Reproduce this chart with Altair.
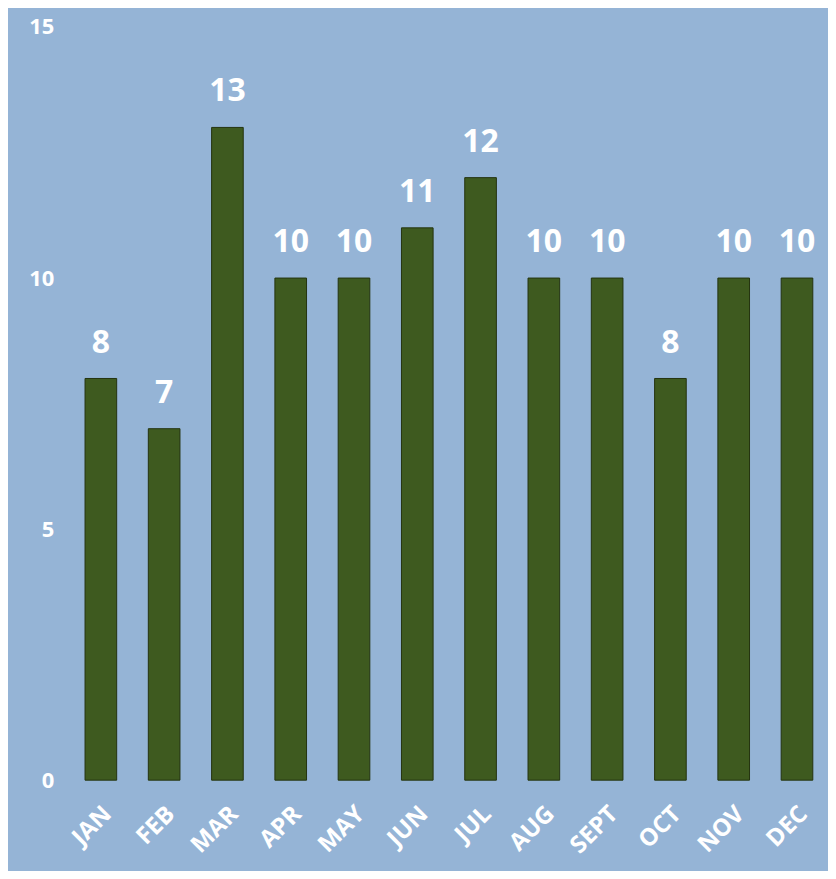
import altair as alt
import pandas as pd

months = ["JAN", "FEB", "MAR", "APR", "MAY", "JUN", "JUL", "AUG", "SEPT", "OCT", "NOV", "DEC"]
values = [8, 7, 13, 10, 10, 11, 12, 10, 10, 8, 10, 10]
y_ticks = [0, 5, 10, 15]

df = pd.DataFrame({"month": months, "value": values})

BG = "#95b4d6"
GREEN = "#3e5a1f"
FONT = "Open Sans"

x = alt.X(
    "month:N",
    sort=months,
    scale=alt.Scale(paddingInner=0.5, paddingOuter=0.24),
    axis=alt.Axis(
        title=None, labelAngle=-45, labelAlign="right", labelBaseline="middle",
        labelPadding=30, labelOffset=7, labelColor="white", labelFont=FONT,
        labelFontSize=24, labelFontWeight="bold", ticks=False, domain=False,
        grid=False,
    ),
)
y = alt.Y(
    "value:Q",
    scale=alt.Scale(domain=[0, 15], nice=False),
    axis=alt.Axis(
        title=None, values=y_ticks, labelColor="white", labelFont=FONT,
        labelFontSize=22, labelFontWeight="bold", labelPadding=16, ticks=False,
        domain=False, grid=False,
    ),
)

bars = alt.Chart(df).mark_bar(color=GREEN, stroke="#24330f", strokeWidth=1).encode(x=x, y=y)
labels = alt.Chart(df).mark_text(
    baseline="bottom", dy=-19, color="white", font=FONT, fontSize=32, fontWeight="bold"
).encode(x=alt.X("month:N", sort=months), y="value:Q", text="value:Q")

chart = (
    (bars + labels)
    .properties(
        width=760, height=755, background=BG,
        autosize=alt.AutoSizeParams(type="none"),
        padding={"left": 62, "top": 18, "right": 0, "bottom": 90},
    )
    .configure_view(stroke=None)
)

chart.save("out.html", embed_options={"renderer": "svg", "actions": False})
